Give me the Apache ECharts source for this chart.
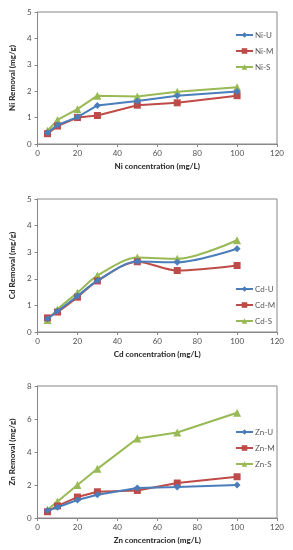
<!DOCTYPE html>
<html><head><meta charset="utf-8">
<script src="https://cdn.jsdelivr.net/npm/echarts@6/dist/echarts.min.js"></script>
<style>html,body{margin:0;padding:0;background:#fff}#c{width:293px;height:550px}</style>
</head><body><div id="c"></div>
<script>
var concentrations = [5, 10, 20, 30, 50, 70, 100];
var niU = [0.43, 0.72, 1.02, 1.46, 1.63, 1.83, 1.99];
var niM = [0.39, 0.68, 1.00, 1.08, 1.47, 1.56, 1.83];
var niS = [0.50, 0.91, 1.32, 1.83, 1.80, 1.98, 2.15];
var cdU = [0.50, 0.78, 1.35, 1.93, 2.65, 2.62, 3.13];
var cdM = [0.53, 0.75, 1.31, 1.92, 2.64, 2.31, 2.50];
var cdS = [0.45, 0.85, 1.48, 2.12, 2.80, 2.75, 3.45];
var znU = [0.45, 0.65, 1.09, 1.41, 1.82, 1.88, 2.00];
var znM = [0.38, 0.73, 1.27, 1.59, 1.67, 2.12, 2.50];
var znS = [0.50, 1.00, 2.00, 2.98, 4.82, 5.18, 6.38];
var xTitles = ['Ni concentration (mg/L)', 'Cd concentration (mg/L)', 'Zn concentracion (mg/L)'];
var yTitles = ['Ni Removal (mg/g)', 'Cd Removal (mg/g)', 'Zn Removal (mg/g)'];
var seriesNames = [['Ni-U','Ni-M','Ni-S'],['Cd-U','Cd-M','Cd-S'],['Zn-U','Zn-M','Zn-S']];
var seriesData = [[niU, niM, niS],[cdU, cdM, cdS],[znU, znM, znS]];
var yMax = [5, 5, 8];
var yInterval = [1, 1, 2];
var smoothFlags = [false, true, false];

var font = 'Lato, "Liberation Sans", sans-serif';
var colors = ['#4a7ebb', '#be4b48', '#98b954'];
var symbols = ['diamond', 'rect', 'triangle'];
var symbolSizes = [7, 7, 8];
var tops = [12, 199, 386];
var heights = [132, 133, 132];
var legendTops = [26, 280, 423];

var grids = [], xAxes = [], yAxes = [], series = [], legends = [];
for (var g = 0; g < 3; g++) {
  grids.push({left: 31, width: 246, top: tops[g], height: heights[g], show: true, borderColor: '#888', borderWidth: 1, backgroundColor: 'transparent'});
  xAxes.push({type: 'value', gridIndex: g, min: 0, max: 120, interval: 20,
    name: xTitles[g], nameLocation: 'middle', nameGap: 18,
    nameTextStyle: {fontFamily: font, fontSize: 8, fontWeight: 900, color: '#333'},
    axisLine: {show: true, lineStyle: {color: '#888'}},
    axisTick: {show: true, length: 3, lineStyle: {color: '#888'}},
    axisLabel: {fontFamily: font, fontSize: 8, color: '#505050', margin: 5},
    splitLine: {show: false}});
  yAxes.push({type: 'value', gridIndex: g, min: 0, max: yMax[g], interval: yInterval[g],
    name: yTitles[g], nameLocation: 'middle', nameGap: 18,
    nameTextStyle: {fontFamily: font, fontSize: 8, fontWeight: 900, color: '#333'},
    axisLine: {show: true, lineStyle: {color: '#888'}},
    axisTick: {show: true, length: 3, lineStyle: {color: '#888'}},
    axisLabel: {fontFamily: font, fontSize: 8, color: '#505050', margin: 6},
    splitLine: {show: false}});
  for (var s = 0; s < 3; s++) {
    var arr = seriesData[g][s];
    series.push({type: 'line', name: seriesNames[g][s], xAxisIndex: g, yAxisIndex: g,
      smooth: smoothFlags[g] ? 0.3 : false,
      data: concentrations.map(function (c, i) { return [c, arr[i]]; }),
      symbol: symbols[s], symbolSize: symbolSizes[s], showSymbol: true,
      itemStyle: {color: colors[s]}, lineStyle: {color: colors[s], width: 2},
      z: 3 - s + 2});
  }
  legends.push({data: seriesNames[g], orient: 'vertical', left: 230, top: legendTops[g],
    itemWidth: 17, itemHeight: 7, itemGap: 8,
    textStyle: {fontFamily: font, fontSize: 8, color: '#595959', padding: [0,0,0,-3]}});
}

var chart = echarts.init(document.getElementById('c'), null, {renderer: 'canvas'});
chart.setOption({animation: false, backgroundColor: '#fff', grid: grids, xAxis: xAxes, yAxis: yAxes, legend: legends, series: series});
</script></body></html>
